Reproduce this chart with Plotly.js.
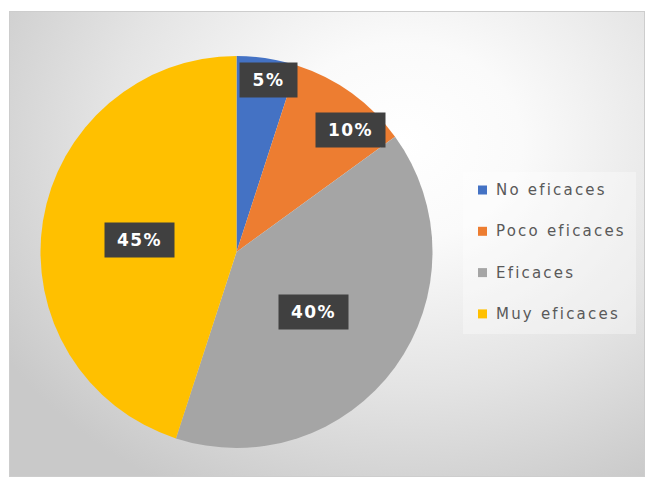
<!DOCTYPE html>
<html>
<head>
<meta charset="utf-8">
<script src="https://cdn.plot.ly/plotly-3.0.1.min.js"></script>
<style>
  html, body { margin: 0; padding: 0; background: #ffffff; }
  #frame {
    position: absolute; left: 9px; top: 11px; width: 636px; height: 466px;
    border: 1px solid #cdcdcd; box-sizing: border-box;
    background: radial-gradient(ellipse 75% 85% at 62% 28%, #ffffff 0%, #fafafa 25%, #e4e4e4 62%, #c9c9c9 100%);
  }
  #chart { position: absolute; left: 0; top: 0; width: 650px; height: 490px; }
</style>
</head>
<body>
<div id="frame"></div>
<div id="chart"></div>
<script>
// ---- data ----
const categories = ['No eficaces', 'Poco eficaces', 'Eficaces', 'Muy eficaces'];
const percentages = [5, 10, 40, 45];
const sliceColors = ['#4472C4', '#ED7D31', '#A5A5A5', '#FFC000'];

// ---- layout helpers ----
const W = 650, H = 490;
const pieBox = { x0: 40, x1: 433, y0: 56, y1: 448 };   // pixel box of the pie domain
const labelRadius = [0.89, 0.85, 0.50, 0.50];
const labelAngleNudge = [1.5, 7, 2, -2];

const cx = (pieBox.x0 + pieBox.x1) / 2;
const cy = (pieBox.y0 + pieBox.y1) / 2;
const R = Math.min(pieBox.x1 - pieBox.x0, pieBox.y1 - pieBox.y0) / 2;
const total = percentages.reduce((a, b) => a + b, 0);

const annotations = [];
const shapes = [];
let cum = 0;
percentages.forEach((v, i) => {
  const mid = (cum + v / 2) / total * 360 + labelAngleNudge[i];
  cum += v;
  const t = mid * Math.PI / 180;
  const px = cx + R * labelRadius[i] * Math.sin(t);
  const py = cy - R * labelRadius[i] * Math.cos(t);
  const txt = v + '%';
  annotations.push({
    xref: 'paper', yref: 'paper', x: px / W, y: 1 - py / H,
    xanchor: 'center', yanchor: 'middle',
    showarrow: false,
    text: '<b><span style="letter-spacing:1.5px">' + txt + '</span></b>',
    font: { family: 'DejaVu Sans', size: 17, color: '#ffffff' },
    bgcolor: '#404040', borderpad: 4,
    width: 25 + 12 * txt.length, height: 26
  });
});

// manual legend (Excel-like spacing)
const legBox = { x0: 463, x1: 636, y0: 172, y1: 334 };
shapes.push({
  type: 'rect', xref: 'paper', yref: 'paper', layer: 'below',
  x0: legBox.x0 / W, x1: legBox.x1 / W, y0: 1 - legBox.y1 / H, y1: 1 - legBox.y0 / H,
  fillcolor: 'rgba(255,255,255,0.35)', line: { width: 0 }
});
categories.forEach((c, i) => {
  const yc = 190 + i * 41.3;
  shapes.push({
    type: 'rect', xref: 'paper', yref: 'paper',
    x0: 478 / W, x1: 487 / W, y0: 1 - (yc + 4.5) / H, y1: 1 - (yc - 4.5) / H,
    fillcolor: sliceColors[i], line: { width: 0 }
  });
  annotations.push({
    xref: 'paper', yref: 'paper', x: 494 / W, y: 1 - yc / H,
    xanchor: 'left', yanchor: 'middle', showarrow: false,
    text: '<span style="letter-spacing:2.2px">' + c + '</span>',
    font: { family: 'DejaVu Sans', size: 15, color: '#595959' }
  });
});

const trace = {
  type: 'pie',
  labels: categories,
  values: percentages,
  marker: { colors: sliceColors, line: { width: 0 } },
  sort: false,
  direction: 'clockwise',
  rotation: 0,
  textinfo: 'none',
  hoverinfo: 'none',
  showlegend: false,
  domain: { x: [pieBox.x0 / W, pieBox.x1 / W], y: [1 - pieBox.y1 / H, 1 - pieBox.y0 / H] }
};

const layout = {
  width: W, height: H,
  margin: { l: 0, r: 0, t: 0, b: 0 },
  paper_bgcolor: 'rgba(0,0,0,0)',
  plot_bgcolor: 'rgba(0,0,0,0)',
  showlegend: false,
  annotations: annotations,
  shapes: shapes
};

Plotly.newPlot('chart', [trace], layout, { displayModeBar: false, staticPlot: true });
</script>
</body>
</html>
